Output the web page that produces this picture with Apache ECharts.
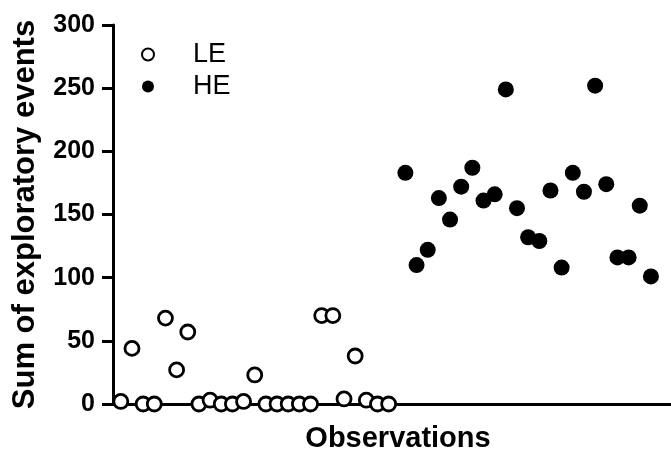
<!DOCTYPE html>
<html>
<head>
<meta charset="utf-8">
<script src="https://cdn.jsdelivr.net/npm/echarts@6/dist/echarts.min.js"></script>
<style>html,body{margin:0;padding:0;background:#fff;}#c{width:671px;height:454px;}</style>
</head>
<body>
<div id="c"></div>
<script>
// Observation positions (x) and values (y)
var leX = [0.7, 1.7, 2.7, 3.7, 4.7, 5.7, 6.7, 7.7, 8.7, 9.7, 10.7, 11.7, 12.7, 13.7, 14.7, 15.7, 16.7, 17.7, 18.7, 19.7, 20.7, 21.7, 22.7, 23.7, 24.7];
var leY = [2, 44, 0, 0, 68, 27, 57, 0, 3, 0, 0, 2, 23, 0, 0, 0, 0, 0, 70, 70, 4, 38, 3, 0, 0];
var heX = [26.2, 27.2, 28.2, 29.2, 30.2, 31.2, 32.2, 33.2, 34.2, 35.2, 36.2, 37.2, 38.2, 39.2, 40.2, 41.2, 42.2, 43.2, 44.2, 45.2, 46.2, 47.2, 48.2];
var heY = [183, 110, 122, 163, 146, 172, 187, 161, 166, 249, 155, 132, 129, 169, 108, 183, 168, 252, 174, 116, 116, 157, 101];
var yTicks = [0, 50, 100, 150, 200, 250, 300];
var seriesNames = ['LE', 'HE'];
var xTitle = 'Observations';
var yTitle = 'Sum of exploratory events';

function pairs(xs, ys) { return xs.map(function (x, i) { return [x, ys[i]]; }); }

var font = '"Liberation Sans", Arial, Helvetica, sans-serif';
var chart = echarts.init(document.getElementById('c'), null, { renderer: 'canvas' });
chart.setOption({
  animation: false,
  backgroundColor: '#fff',
  grid: { left: 113, right: 0, top: 25, bottom: 50, containLabel: false, outerBoundsMode: 'none' },
  legend: {
    orient: 'vertical', left: 136, top: 36, itemGap: 5,
    itemWidth: 12, itemHeight: 12,
    data: seriesNames,
    textStyle: { fontFamily: font, fontSize: 27, color: '#000', padding: [0, 0, 0, 34] }
  },
  xAxis: {
    type: 'value', min: 0, max: 50,
    name: xTitle, nameLocation: 'middle', nameGap: 20,
    nameTextStyle: { fontFamily: font, fontSize: 29, fontWeight: 'bold', color: '#000', padding: [0, 0, 0, 12] },
    axisLine: { show: true, onZero: false, lineStyle: { color: '#000', width: 3 } },
    axisTick: { show: false }, axisLabel: { show: false }, splitLine: { show: false }
  },
  yAxis: {
    type: 'value', min: yTicks[0], max: yTicks[yTicks.length - 1], interval: 50,
    name: yTitle, nameLocation: 'middle', nameGap: 72, nameRotate: 90,
    nameTextStyle: { fontFamily: font, fontSize: 31, fontWeight: 'bold', color: '#000' },
    axisLine: { show: true, lineStyle: { color: '#000', width: 3 } },
    axisTick: { show: true, length: 11, lineStyle: { color: '#000', width: 3 } },
    axisLabel: { margin: 18, fontFamily: font, fontSize: 25, fontWeight: 'bold', color: '#000' },
    splitLine: { show: false }
  },
  series: [
    {
      name: seriesNames[0], type: 'scatter', clip: false, symbol: 'circle', symbolSize: 14,
      itemStyle: { color: '#fff', borderColor: '#000', borderWidth: 2.8, opacity: 1 },
      data: pairs(leX, leY)
    },
    {
      name: seriesNames[1], type: 'scatter', clip: false, symbol: 'circle', symbolSize: 16,
      itemStyle: { color: '#000', borderColor: '#000', borderWidth: 0, opacity: 1 },
      data: pairs(heX, heY)
    }
  ]
});
</script>
</body>
</html>
